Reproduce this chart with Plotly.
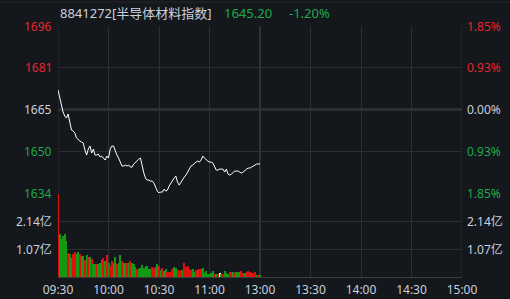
import plotly.graph_objects as go

# ---------------- data ----------------
code_name = "8841272[半导体材料指数]"
last_price = "1645.20"
change_pct = "-1.20%"
prev_close = 1665.18
band = 0.0185

time_labels = ["09:30", "10:00", "10:30", "11:00", "13:00", "13:30", "14:00", "14:30", "15:00"]
time_ticks = [0, 30, 60, 90, 120, 150, 180, 210, 240]

left_labels = ["1696", "1681", "1665", "1650", "1634"]
right_labels = ["1.85%", "0.93%", "0.00%", "0.93%", "1.85%"]

price = [
    1672.38, 1669.43, 1667.21, 1664.26, 1662.78, 1662.04, 1663.52, 1659.82, 1657.61, 1657.24,
    1656.50, 1654.65, 1653.91, 1653.54, 1653.17, 1652.81, 1650.22, 1648.37, 1650.59, 1651.70,
    1649.11, 1650.59, 1648.37, 1648.37, 1648.74, 1647.63, 1648.00, 1647.26, 1646.53, 1648.00,
    1647.26, 1650.59, 1651.70, 1651.70, 1649.85, 1648.37, 1647.26, 1645.79, 1644.31, 1644.31,
    1644.68, 1644.31, 1644.68, 1643.94, 1643.94, 1645.05, 1645.79, 1646.16, 1646.89, 1647.26,
    1643.94, 1641.72, 1639.88, 1639.14, 1639.14, 1638.77, 1638.77, 1638.03, 1636.55, 1635.07,
    1634.34, 1634.70, 1634.70, 1635.81, 1635.07, 1635.44, 1636.92, 1638.03, 1638.77, 1639.88,
    1640.61, 1638.40, 1637.29, 1638.40, 1639.14, 1640.25, 1640.98, 1642.09, 1643.20, 1644.31,
    1644.68, 1645.42, 1645.79, 1646.16, 1645.79, 1646.53, 1648.00, 1647.26, 1646.53, 1646.16,
    1645.79, 1645.79, 1645.42, 1644.31, 1642.83, 1642.83, 1643.20, 1643.20, 1643.20, 1642.09,
    1643.20, 1641.35, 1640.98, 1641.35, 1642.09, 1642.46, 1642.46, 1642.46, 1642.09, 1641.72,
    1642.09, 1642.83, 1643.20, 1643.57, 1643.57, 1643.94, 1644.31, 1644.68, 1645.05, 1645.05,
    1645.20,
]

# volume in 亿 (1e8)
volume = [
    3.17, 1.64, 1.45, 1.58, 1.64, 1.38, 0.92, 0.88, 0.74, 0.88,
    0.96, 0.88, 0.96, 0.89, 0.81, 0.79, 0.65, 0.84, 0.76, 0.78,
    0.69, 0.50, 0.50, 0.50, 0.50, 0.52, 0.65, 0.74, 0.61, 0.84,
    0.55, 0.41, 0.61, 0.52, 0.78, 0.48, 0.52, 0.84, 0.61, 0.52,
    0.52, 0.52, 0.52, 0.61, 0.52, 0.50, 0.40, 0.31, 0.31, 0.33,
    0.46, 0.36, 0.41, 0.41, 0.31, 0.31, 0.38, 0.36, 0.38, 0.50,
    0.42, 0.27, 0.33, 0.24, 0.29, 0.20, 0.20, 0.20, 0.29, 0.37,
    0.33, 0.27, 0.24, 0.27, 0.27, 0.52, 0.37, 0.42, 0.29, 0.27,
    0.29, 0.20, 0.27, 0.27, 0.29, 0.29, 0.33, 0.14, 0.23, 0.11,
    0.11, 0.14, 0.23, 0.11, 0.11, 0.11, 0.14, 0.11, 0.11, 0.24,
    0.14, 0.11, 0.20, 0.20, 0.20, 0.14, 0.18, 0.20, 0.18, 0.24,
    0.16, 0.14, 0.20, 0.24, 0.20, 0.14, 0.14, 0.18, 0.05, 0.08,
    0.04,
]

# bar direction: r = up, g = down, w = flat
direction = (
    "rgggggrggr" "rggrggrgrg"
    "rggrgggrgr" "grrggrggrg"
    "grgrgggrgg" "ggggggrrgg"
    "rgrggrrrrg" "grrrgrrrrr"
    "ggrgrrgggg" "rggrgrwgrg"
    "ggrrgrgggr" "rgrrrgrrgr"
    "g"
)

vol_ticks = [1.07, 2.14, 3.21]
vol_labels = ["1.07亿", "2.14亿"]

# ---------------- style ----------------
BG = "#14171c"
GRID = "#2c2e33"
RED = "#e3262f"
GREEN = "#1eab4a"
LIGHT = "#c8d1de"
BAR_COLORS = {"r": "#e01010", "g": "#139a13", "w": "#ffffff"}
FONT = "Noto Sans, Noto Sans CJK SC, sans-serif"

W, H = 510, 299
ML, MR, MT, MB = 58, 48, 26, 22
price_bottom_px = 193
plot_h = H - MT - MB
plot_w = W - ML - MR
split = (H - MB - price_bottom_px) / plot_h

hi = prev_close * (1 + band)
lo = prev_close * (1 - band)
price_levels = [prev_close * (1 + band * k) for k in (1, 0.5, 0, -0.5, -1)]

minutes = list(range(len(price)))

fig = go.Figure()
fig.add_trace(go.Scatter(
    x=minutes, y=price, mode="lines",
    line=dict(color="#ffffff", width=1), xaxis="x", yaxis="y",
    hoverinfo="skip",
))
fig.add_trace(go.Bar(
    x=minutes, y=volume, width=0.6,
    marker=dict(color=[BAR_COLORS[c] for c in direction], line=dict(width=0)),
    xaxis="x", yaxis="y2", hoverinfo="skip",
))

fig.update_layout(
    width=W, height=H,
    margin=dict(l=ML, r=MR, t=MT, b=MB, autoexpand=False),
    paper_bgcolor=BG, plot_bgcolor=BG,
    showlegend=False,
    font=dict(family=FONT, size=12, color=LIGHT),
    bargap=0,
    xaxis=dict(
        range=[0, 240], tickvals=time_ticks, ticktext=time_labels,
        showgrid=True, gridcolor=GRID, gridwidth=1,
        zeroline=False, showline=True, linecolor="#3a3c40", linewidth=1,
        ticks="outside", ticklen=2, tickcolor=BG,
        tickfont=dict(size=12, color=LIGHT), anchor="y2",
        automargin=False,
    ),
    yaxis=dict(
        domain=[split, 1], range=[lo, hi], tickvals=price_levels,
        showticklabels=False, showgrid=True, gridcolor=GRID, gridwidth=1,
        zeroline=False, showline=False, anchor="x", automargin=False,
    ),
    yaxis2=dict(
        domain=[0, split], range=[0, vol_ticks[-1]], tickvals=vol_ticks,
        showticklabels=False, showgrid=True, gridcolor=GRID, gridwidth=1,
        zeroline=False, showline=False, anchor="x", automargin=False,
    ),
)

shapes = []
shapes.append(dict(type="line", xref="x", yref="y", x0=0, x1=240, y0=prev_close, y1=prev_close,
                   line=dict(color="#47494d", width=2), layer="below"))
shapes.append(dict(type="line", xref="x", yref="paper", x0=120, x1=120, y0=0, y1=1,
                   line=dict(color="#35373b", width=2), layer="below"))
shapes.append(dict(type="line", xref="x", yref="paper", x0=0, x1=0, y0=0, y1=1,
                   line=dict(color=GRID, width=1), layer="below"))
shapes.append(dict(type="line", xref="x", yref="paper", x0=240, x1=240, y0=0, y1=1,
                   line=dict(color=GRID, width=1), layer="below"))
shapes.append(dict(type="line", xref="paper", yref="paper", x0=-ML / plot_w, x1=1 + MR / plot_w,
                   y0=1 + (MT - 2) / plot_h, y1=1 + (MT - 2) / plot_h,
                   line=dict(color="#25272b", width=1)))
fig.update_layout(shapes=shapes)

ann = []
left_colors = [RED, RED, LIGHT, GREEN, GREEN]
right_colors = [RED, RED, LIGHT, GREEN, GREEN]
for lv, txt, col in zip(price_levels, left_labels, left_colors):
    ann.append(dict(xref="paper", yref="y", x=0, y=lv, xshift=-4, text=txt,
                    showarrow=False, xanchor="right", yanchor="middle",
                    font=dict(size=12, color=col)))
for lv, txt, col in zip(price_levels, right_labels, right_colors):
    ann.append(dict(xref="paper", yref="y", x=1, y=lv, xshift=3, text=txt,
                    showarrow=False, xanchor="left", yanchor="middle",
                    font=dict(size=12, color=col)))
for tv, tl in zip(vol_ticks[:2], vol_labels):
    ann.append(dict(xref="paper", yref="y2", x=0, y=tv, xshift=-4, text=tl,
                    showarrow=False, xanchor="right", yanchor="middle",
                    font=dict(size=12, color=LIGHT)))
    ann.append(dict(xref="paper", yref="y2", x=1, y=tv, xshift=3, text=tl,
                    showarrow=False, xanchor="left", yanchor="middle",
                    font=dict(size=12, color=LIGHT)))
header_y = 1 + (MT - 13) / plot_h
ann.append(dict(xref="paper", yref="paper", x=0, y=header_y, text=code_name,
                showarrow=False, xanchor="left", yanchor="middle",
                font=dict(size=13, color=LIGHT)))
ann.append(dict(xref="paper", yref="paper", x=(222 - ML) / plot_w, y=header_y, text=last_price,
                showarrow=False, xanchor="left", yanchor="middle",
                font=dict(size=13, color=GREEN)))
ann.append(dict(xref="paper", yref="paper", x=(287 - ML) / plot_w, y=header_y, text=change_pct,
                showarrow=False, xanchor="left", yanchor="middle",
                font=dict(size=13, color=GREEN)))
fig.update_layout(annotations=ann)

fig.write_html("out.html")
